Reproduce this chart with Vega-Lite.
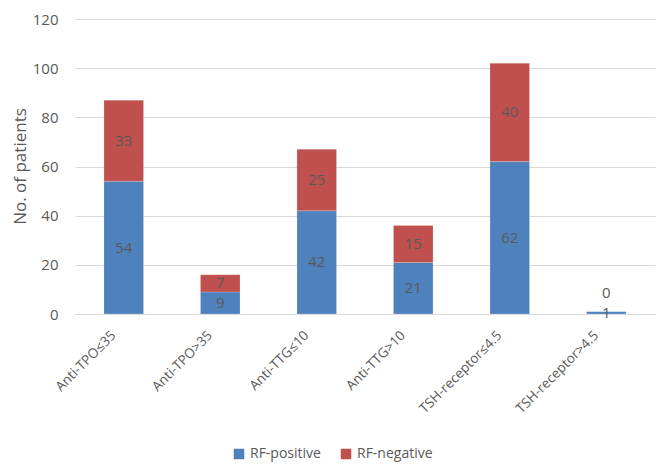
{
  "$schema": "https://vega.github.io/schema/vega-lite/v6.json",
  "width": 580,
  "height": 295,
  "autosize": {"type": "none"},
  "padding": {"left": 75, "top": 19, "right": 3, "bottom": 150},
  "background": "white",
  "config": {
    "font": "Open Sans",
    "view": {"stroke": null},
    "axis": {"labelColor": "#595959", "titleColor": "#595959", "labelFont": "Open Sans", "titleFont": "Open Sans"},
    "legend": {"labelColor": "#595959", "labelFont": "Open Sans"}
  },
  "data": {
    "values": [
      {"category": "Anti-TPO≤35", "group": "RF-positive", "value": 54},
      {"category": "Anti-TPO≤35", "group": "RF-negative", "value": 33},
      {"category": "Anti-TPO>35", "group": "RF-positive", "value": 9},
      {"category": "Anti-TPO>35", "group": "RF-negative", "value": 7},
      {"category": "Anti-TTG≤10", "group": "RF-positive", "value": 42},
      {"category": "Anti-TTG≤10", "group": "RF-negative", "value": 25},
      {"category": "Anti-TTG>10", "group": "RF-positive", "value": 21},
      {"category": "Anti-TTG>10", "group": "RF-negative", "value": 15},
      {"category": "TSH-receptor≤4.5", "group": "RF-positive", "value": 62},
      {"category": "TSH-receptor≤4.5", "group": "RF-negative", "value": 40},
      {"category": "TSH-receptor>4.5", "group": "RF-positive", "value": 1},
      {"category": "TSH-receptor>4.5", "group": "RF-negative", "value": 0}
    ]
  },
  "transform": [
    {"stack": "value", "groupby": ["category"], "sort": [{"field": "group", "order": "descending"}], "as": ["y0", "y1"]},
    {"calculate": "(datum.y0 + datum.y1) / 2", "as": "mid"}
  ],
  "encoding": {
    "x": {
      "field": "category",
      "type": "nominal",
      "sort": null,
      "scale": {"paddingInner": 0.59, "paddingOuter": 0.3},
      "axis": {
        "title": null,
        "labelAngle": -45,
        "labelAlign": "right",
        "labelBaseline": "middle",
        "labelFontSize": 13.5,
        "labelPadding": 19,
        "labelOffset": -10,
        "ticks": false,
        "domainColor": "#D9D9D9",
        "domainWidth": 1
      }
    }
  },
  "layer": [
    {
      "mark": {"type": "bar", "stroke": "white", "strokeOpacity": 0.4, "strokeWidth": 0.5},
      "encoding": {
        "y": {
          "field": "y0",
          "type": "quantitative",
          "scale": {"domain": [0, 120], "nice": false},
          "axis": {
            "values": [0, 20, 40, 60, 80, 100, 120],
            "title": "No. of patients",
            "titleFontSize": 17,
            "titleFontWeight": "normal",
            "titleX": -55,
            "titleY": 147,
            "titleAngle": -90,
            "titleAlign": "center",
            "titleBaseline": "middle",
            "labelFontSize": 15,
            "labelPadding": 17,
            "ticks": false,
            "domain": false,
            "gridColor": "#D9D9D9",
            "gridWidth": 1
          }
        },
        "y2": {"field": "y1"},
        "color": {
          "field": "group",
          "type": "nominal",
          "scale": {"domain": ["RF-positive", "RF-negative"], "range": ["#4F81BD", "#C0504D"]},
          "legend": {
            "title": null,
            "orient": "none",
            "direction": "horizontal",
            "legendX": 157,
            "legendY": 428,
            "symbolType": "square",
            "symbolSize": 110,
            "symbolStrokeWidth": 0,
            "labelFontSize": 14,
            "columnPadding": 18,
            "labelOffset": 4
          }
        }
      }
    },
    {
      "transform": [{"filter": "datum.value > 0"}],
      "mark": {"type": "text", "fontSize": 15, "color": "#595959", "baseline": "middle"},
      "encoding": {
        "y": {"field": "mid", "type": "quantitative"},
        "text": {"field": "value", "type": "quantitative"}
      }
    },
    {
      "transform": [{"filter": "datum.value == 0"}],
      "mark": {"type": "text", "fontSize": 15, "color": "#595959", "baseline": "middle", "dy": -19},
      "encoding": {
        "y": {"field": "mid", "type": "quantitative"},
        "text": {"field": "value", "type": "quantitative"}
      }
    }
  ]
}
